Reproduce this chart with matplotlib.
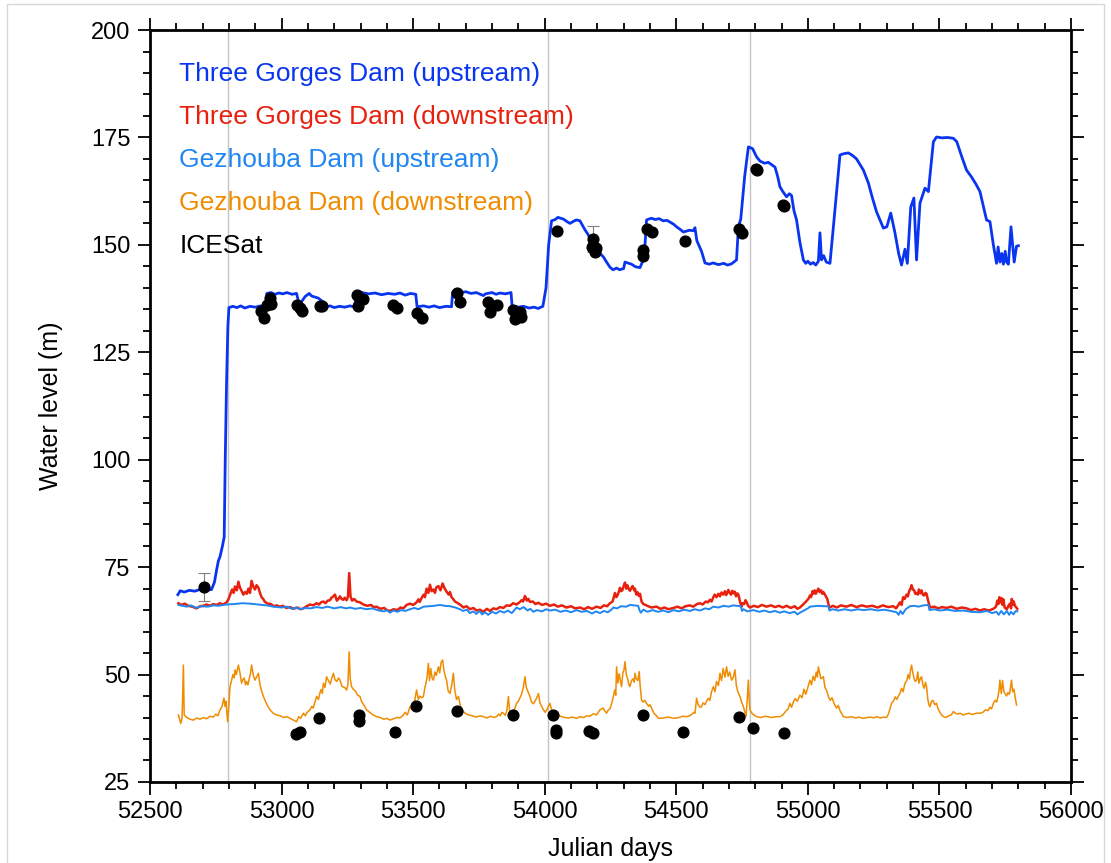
import numpy as np
import matplotlib.pyplot as plt
from matplotlib.ticker import MultipleLocator
from matplotlib.patches import Rectangle

plt.rcParams['font.family'] = ['Liberation Sans', 'DejaVu Sans']

# (julian day, water level in m)

# Three Gorges Dam, upstream gauge
tg_up = np.array([
    [52606, 68.6], [52615, 69.5], [52630, 69.2], [52650, 69.6], [52670, 69.4], [52690, 69.8],
    [52710, 69.6], [52734, 69.8], [52745, 71.5], [52753, 74.3], [52760, 76.5], [52766, 77.4],
    [52775, 79.8], [52782, 82.0], [52786, 100.0], [52791, 118.0], [52796, 131.0], [52800, 135.4],
    [52815, 135.7], [52830, 135.4], [52845, 135.8], [52860, 135.3], [52880, 135.7], [52900, 135.5],
    [52920, 135.8], [52940, 135.5], [52944, 138.7], [52960, 138.9], [52975, 138.5], [52990, 138.8],
    [53005, 138.6], [53020, 138.9], [53040, 138.5], [53057, 138.7], [53066, 136.4], [53076, 136.8],
    [53090, 138.0], [53105, 138.7], [53114, 138.1], [53140, 137.6], [53160, 136.6], [53171, 135.6],
    [53185, 135.8], [53200, 135.4], [53220, 135.7], [53240, 135.5], [53260, 135.8], [53279, 135.5],
    [53282, 138.6], [53305, 138.9], [53330, 138.6], [53355, 138.8], [53380, 138.4], [53405, 138.7],
    [53430, 138.5], [53450, 138.8], [53470, 138.3], [53490, 138.7], [53510, 138.5], [53515, 135.6],
    [53540, 135.8], [53560, 135.5], [53580, 135.8], [53600, 135.4], [53625, 135.7], [53646, 135.6],
    [53650, 139.0], [53675, 138.8], [53700, 139.1], [53720, 138.7], [53740, 138.9], [53767, 138.2],
    [53775, 138.6], [53800, 138.9], [53815, 138.5], [53830, 138.8], [53850, 138.6], [53872, 138.9],
    [53876, 135.8], [53900, 135.5], [53920, 135.7], [53940, 135.3], [53960, 135.5], [53975, 135.2],
    [53993, 135.7], [54005, 140.0], [54015, 150.0], [54026, 155.6], [54040, 155.9], [54050, 156.4],
    [54071, 156.0], [54085, 155.4], [54096, 155.0], [54110, 155.5], [54120, 155.8], [54134, 155.6],
    [54153, 153.5], [54165, 152.4], [54175, 151.0], [54197, 149.5], [54210, 148.0], [54223, 147.2],
    [54235, 146.0], [54248, 144.8], [54260, 144.2], [54273, 144.6], [54285, 144.2], [54300, 144.5],
    [54305, 146.0], [54330, 145.5], [54345, 144.9], [54362, 144.7], [54378, 147.0], [54387, 155.8],
    [54405, 156.2], [54420, 155.9], [54435, 156.1], [54450, 155.6], [54465, 155.7], [54476, 155.3],
    [54490, 154.8], [54501, 154.2], [54515, 153.6], [54527, 153.0], [54550, 153.4], [54565, 153.3],
    [54571, 154.0], [54578, 151.0], [54596, 148.5], [54609, 145.8], [54625, 145.5], [54640, 145.8],
    [54660, 145.4], [54680, 145.7], [54695, 145.3], [54710, 145.6], [54729, 146.5], [54736, 154.2],
    [54745, 156.0], [54760, 166.0], [54774, 172.8], [54790, 172.4], [54805, 170.5], [54818, 169.5],
    [54835, 169.0], [54850, 169.2], [54875, 168.1], [54885, 166.0], [54894, 163.5], [54905, 162.4],
    [54919, 161.2], [54930, 161.9], [54938, 161.5], [54947, 158.0], [54957, 155.8], [54970, 150.5],
    [54983, 146.5], [54992, 145.7], [55000, 146.2], [55010, 145.5], [55020, 145.9], [55030, 145.3],
    [55040, 146.2], [55046, 152.8], [55052, 146.5], [55060, 147.5], [55070, 146.0], [55084, 145.7],
    [55097, 154.2], [55110, 163.0], [55122, 170.9], [55135, 171.2], [55154, 171.4], [55170, 170.8],
    [55185, 170.0], [55211, 167.4], [55230, 164.4], [55245, 161.0], [55261, 157.7], [55287, 153.9],
    [55300, 154.2], [55315, 157.4], [55331, 152.8], [55345, 148.0], [55356, 145.3], [55369, 149.0],
    [55378, 145.7], [55391, 158.8], [55403, 160.9], [55413, 146.5], [55426, 159.7], [55445, 163.2],
    [55458, 162.4], [55477, 174.0], [55489, 175.1], [55510, 174.9], [55530, 175.0], [55553, 174.8],
    [55566, 174.0], [55585, 170.5], [55603, 167.4], [55622, 165.8], [55640, 164.0], [55654, 162.4],
    [55679, 155.8], [55692, 155.4], [55705, 150.0], [55717, 145.7], [55723, 149.5], [55730, 146.0],
    [55737, 148.0], [55743, 145.5], [55750, 148.5], [55755, 146.0], [55762, 145.5], [55772, 154.2],
    [55778, 150.0], [55784, 146.0], [55793, 149.7], [55800, 149.8]])

# Three Gorges Dam, downstream gauge
tg_dn = np.array([
    [52608, 66.6], [52620, 66.2], [52632, 66.5], [52645, 66.0], [52660, 65.8], [52677, 65.4],
    [52690, 65.9], [52703, 66.0], [52715, 66.3], [52728, 66.0], [52740, 66.4], [52753, 66.2],
    [52766, 66.6], [52778, 66.3], [52791, 66.8], [52798, 67.5], [52804, 68.5], [52812, 69.8],
    [52818, 69.0], [52823, 70.5], [52830, 69.6], [52836, 71.6], [52842, 70.2], [52848, 69.5],
    [52855, 68.6], [52861, 69.2], [52868, 68.8], [52874, 70.0], [52880, 69.0], [52886, 71.8],
    [52893, 70.4], [52899, 69.8], [52905, 70.8], [52912, 70.2], [52918, 69.0], [52924, 68.0],
    [52930, 67.6], [52937, 66.9], [52948, 66.5], [52960, 66.4], [52970, 65.9], [52981, 66.1],
    [52993, 65.8], [53005, 66.0], [53018, 65.5], [53032, 65.7], [53045, 65.3], [53060, 65.6],
    [53072, 65.2], [53083, 65.4], [53095, 65.9], [53108, 66.3], [53120, 66.1], [53133, 66.6],
    [53142, 66.3], [53150, 66.8], [53159, 67.0], [53167, 66.6], [53175, 67.2], [53184, 67.3],
    [53190, 67.9], [53195, 68.1], [53203, 68.6], [53210, 67.2], [53216, 67.6], [53222, 68.2],
    [53228, 67.6], [53235, 67.4], [53240, 67.9], [53247, 67.3], [53252, 68.0], [53257, 73.6],
    [53262, 68.2], [53268, 67.2], [53276, 67.6], [53285, 67.0], [53298, 66.8], [53311, 66.3],
    [53325, 66.0], [53340, 66.2], [53350, 65.7], [53361, 65.8], [53375, 65.3], [53390, 65.5],
    [53400, 65.0], [53412, 64.8], [53425, 65.2], [53440, 65.0], [53452, 65.6], [53463, 65.4],
    [53475, 66.2], [53488, 66.5], [53500, 66.2], [53513, 66.8], [53520, 67.5], [53525, 66.9],
    [53532, 67.8], [53540, 68.6], [53545, 68.0], [53551, 70.0], [53558, 69.0], [53564, 70.9],
    [53570, 69.4], [53577, 69.8], [53583, 69.0], [53588, 70.3], [53596, 70.6], [53604, 69.6],
    [53612, 71.2], [53620, 70.0], [53627, 69.3], [53635, 68.6], [53640, 69.2], [53646, 68.0],
    [53652, 67.6], [53659, 67.0], [53670, 66.6], [53680, 66.2], [53691, 65.6], [53703, 65.9],
    [53716, 65.2], [53729, 65.5], [53741, 64.9], [53754, 65.1], [53767, 64.6], [53780, 65.3],
    [53792, 64.8], [53805, 65.4], [53817, 65.2], [53830, 65.7], [53843, 65.5], [53855, 66.1],
    [53868, 66.0], [53880, 66.6], [53893, 66.3], [53906, 66.9], [53912, 67.3], [53918, 67.0],
    [53925, 68.3], [53932, 67.2], [53938, 67.6], [53944, 66.9], [53955, 67.0], [53965, 66.4],
    [53976, 66.7], [53990, 66.2], [54005, 66.5], [54020, 66.0], [54035, 66.3], [54050, 65.8],
    [54065, 66.1], [54083, 65.6], [54100, 65.9], [54115, 65.4], [54134, 65.6], [54150, 65.2],
    [54165, 65.7], [54180, 65.3], [54197, 65.8], [54212, 65.5], [54225, 66.1], [54237, 65.9],
    [54248, 66.6], [54258, 67.0], [54267, 69.0], [54272, 68.0], [54278, 68.6], [54286, 70.2],
    [54290, 69.4], [54295, 69.6], [54300, 70.6], [54305, 71.4], [54310, 70.0], [54314, 70.8],
    [54320, 69.8], [54324, 69.5], [54330, 70.2], [54334, 70.6], [54340, 69.6], [54343, 70.0],
    [54348, 68.6], [54352, 69.2], [54358, 68.3], [54362, 68.8], [54368, 67.0], [54375, 66.4],
    [54390, 66.0], [54405, 65.6], [54425, 65.8], [54440, 65.3], [54455, 65.6], [54470, 65.2],
    [54489, 65.5], [54505, 65.8], [54520, 65.4], [54535, 65.9], [54552, 66.1], [54565, 65.8],
    [54578, 66.4], [54590, 66.6], [54600, 66.3], [54612, 67.0], [54620, 66.8], [54628, 67.4],
    [54634, 67.0], [54640, 67.9], [54646, 68.6], [54653, 68.0], [54660, 68.8], [54666, 68.2],
    [54672, 69.1], [54679, 68.6], [54685, 69.4], [54690, 68.5], [54698, 69.7], [54703, 69.0],
    [54708, 68.6], [54713, 69.5], [54717, 68.9], [54722, 69.3], [54727, 68.2], [54732, 68.9],
    [54736, 68.6], [54742, 67.0], [54748, 65.8], [54752, 66.6], [54758, 66.4], [54763, 67.3],
    [54767, 66.9], [54773, 66.0], [54780, 65.6], [54795, 66.0], [54810, 65.7], [54825, 66.2],
    [54843, 65.8], [54860, 66.1], [54875, 65.7], [54890, 66.0], [54905, 65.6], [54919, 66.0],
    [54935, 65.5], [54950, 65.9], [54960, 65.3], [54970, 65.6], [54980, 66.2], [54990, 66.8],
    [55002, 67.6], [55008, 68.4], [55012, 68.0], [55018, 69.4], [55021, 68.8], [55026, 69.6],
    [55030, 68.8], [55035, 69.4], [55040, 70.0], [55045, 69.2], [55050, 69.6], [55055, 68.8],
    [55059, 69.2], [55065, 68.6], [55070, 68.0], [55074, 67.6], [55079, 66.2], [55084, 65.6],
    [55095, 66.0], [55110, 65.6], [55125, 66.1], [55147, 65.8], [55165, 66.2], [55185, 65.7],
    [55205, 66.1], [55223, 65.8], [55245, 66.0], [55265, 65.6], [55285, 66.1], [55305, 65.7],
    [55325, 65.9], [55335, 65.4], [55342, 66.0], [55350, 66.8], [55356, 66.2], [55362, 68.0],
    [55368, 67.6], [55375, 68.6], [55380, 68.2], [55385, 69.4], [55390, 70.0], [55394, 70.8],
    [55399, 69.8], [55404, 69.6], [55408, 68.8], [55413, 69.0], [55418, 68.6], [55422, 69.8],
    [55427, 68.9], [55432, 69.6], [55437, 68.6], [55442, 68.4], [55447, 69.0], [55451, 68.8],
    [55457, 67.2], [55464, 65.6], [55480, 65.8], [55495, 65.4], [55510, 65.7], [55527, 65.5],
    [55545, 65.8], [55565, 65.3], [55585, 65.6], [55603, 65.4], [55620, 65.0], [55637, 65.3],
    [55654, 64.9], [55670, 65.2], [55688, 64.9], [55705, 65.3], [55715, 65.8], [55720, 67.2],
    [55724, 66.4], [55728, 68.0], [55732, 66.8], [55736, 67.8], [55740, 66.2], [55743, 67.5],
    [55748, 65.6], [55756, 65.2], [55762, 66.0], [55768, 66.5], [55772, 65.4], [55775, 67.6],
    [55779, 66.2], [55782, 67.0], [55787, 66.0], [55792, 65.6], [55796, 65.3]])

# Gezhouba Dam, upstream gauge
gz_up = np.array([
    [52608, 66.2], [52625, 66.0], [52640, 65.8], [52655, 66.1], [52677, 65.5], [52695, 65.9],
    [52720, 65.8], [52740, 66.1], [52760, 66.0], [52790, 66.3], [52820, 66.4], [52850, 66.6],
    [52880, 66.5], [52910, 66.3], [52943, 66.1], [52970, 65.8], [53000, 65.6], [53020, 65.8],
    [53040, 65.3], [53055, 65.6], [53070, 65.2], [53090, 65.5], [53110, 65.4], [53133, 65.7],
    [53155, 65.5], [53175, 65.8], [53200, 65.4], [53225, 65.7], [53245, 65.4], [53260, 65.6],
    [53280, 65.3], [53300, 65.5], [53323, 65.2], [53345, 65.4], [53370, 64.9], [53390, 64.7],
    [53400, 65.0], [53412, 64.4], [53425, 64.9], [53440, 64.6], [53455, 65.0], [53470, 64.8],
    [53488, 65.2], [53505, 65.5], [53520, 65.2], [53540, 65.8], [53560, 65.9], [53580, 66.0],
    [53602, 66.2], [53620, 66.0], [53640, 65.9], [53660, 65.6], [53678, 65.2], [53690, 64.8],
    [53705, 65.1], [53715, 64.3], [53729, 64.7], [53740, 64.1], [53752, 64.8], [53762, 64.0],
    [53773, 64.5], [53785, 63.9], [53800, 64.6], [53815, 64.2], [53830, 64.8], [53845, 64.4],
    [53860, 64.9], [53875, 64.3], [53893, 65.6], [53905, 65.2], [53920, 65.7], [53935, 64.9],
    [53945, 65.3], [53957, 64.6], [53970, 65.0], [53990, 64.7], [54005, 65.2], [54020, 64.9],
    [54040, 65.1], [54060, 64.6], [54080, 64.9], [54100, 64.5], [54121, 65.0], [54140, 64.6],
    [54160, 64.8], [54180, 64.2], [54195, 64.7], [54210, 64.3], [54225, 64.8], [54240, 64.5],
    [54255, 65.2], [54261, 65.6], [54275, 65.4], [54290, 65.9], [54310, 65.8], [54324, 66.2],
    [54340, 66.1], [54355, 66.0], [54360, 65.0], [54365, 64.4], [54375, 65.1], [54390, 64.6],
    [54410, 65.0], [54430, 64.6], [54451, 64.9], [54470, 64.5], [54490, 65.0], [54510, 64.7],
    [54530, 65.1], [54552, 64.8], [54570, 65.2], [54590, 64.9], [54610, 65.4], [54625, 65.2],
    [54641, 65.8], [54660, 65.6], [54680, 66.0], [54700, 65.8], [54715, 66.1], [54729, 66.0],
    [54745, 65.9], [54750, 64.8], [54755, 65.2], [54770, 64.7], [54793, 65.0], [54815, 64.6],
    [54835, 64.9], [54855, 64.5], [54875, 64.8], [54894, 64.4], [54910, 64.7], [54930, 64.3],
    [54950, 64.6], [54960, 64.0], [54970, 64.4], [54985, 64.9], [55000, 65.4], [55008, 65.8],
    [55025, 65.9], [55040, 66.0], [55060, 65.9], [55078, 65.9], [55082, 64.9], [55095, 65.2],
    [55115, 64.9], [55140, 65.2], [55165, 64.9], [55190, 65.2], [55211, 65.0], [55240, 65.2],
    [55265, 64.9], [55290, 65.1], [55315, 64.8], [55337, 64.5], [55345, 63.9], [55352, 64.8],
    [55360, 64.1], [55372, 65.2], [55388, 65.9], [55405, 66.0], [55420, 65.8], [55440, 66.1],
    [55458, 66.2], [55462, 65.0], [55480, 65.2], [55500, 64.9], [55530, 65.1], [55560, 64.8],
    [55591, 64.9], [55620, 64.6], [55654, 64.5], [55680, 64.8], [55700, 64.3], [55717, 64.6],
    [55725, 63.9], [55735, 64.8], [55745, 64.0], [55756, 64.8], [55765, 63.9], [55772, 64.6],
    [55781, 64.0], [55790, 64.8], [55796, 64.7]])

# Gezhouba Dam, downstream gauge
gz_dn = np.array([
    [52608, 40.6], [52613, 39.5], [52617, 38.6], [52622, 40.0], [52627, 52.2], [52630, 40.6],
    [52640, 40.0], [52652, 39.6], [52665, 39.4], [52678, 39.9], [52690, 39.6], [52703, 40.0],
    [52715, 39.7], [52728, 40.3], [52741, 40.1], [52750, 40.8], [52758, 40.4], [52766, 41.8],
    [52773, 42.4], [52781, 44.5], [52785, 42.6], [52789, 43.8], [52795, 39.0], [52800, 43.0],
    [52804, 47.2], [52810, 48.6], [52815, 50.0], [52820, 49.2], [52823, 51.1], [52828, 50.0],
    [52836, 52.2], [52842, 50.4], [52848, 48.0], [52853, 48.8], [52858, 49.2], [52863, 47.6],
    [52867, 48.4], [52872, 47.6], [52877, 49.0], [52882, 50.2], [52886, 52.2], [52892, 50.0],
    [52899, 48.7], [52905, 49.4], [52912, 50.3], [52918, 47.6], [52925, 46.0], [52931, 44.9],
    [52940, 43.6], [52948, 42.6], [52956, 41.8], [52968, 41.0], [52981, 40.6], [52995, 40.4],
    [53008, 40.0], [53020, 40.2], [53032, 39.8], [53045, 39.4], [53057, 39.0], [53065, 40.2],
    [53072, 39.8], [53083, 41.0], [53090, 40.4], [53097, 41.2], [53108, 41.8], [53115, 42.6],
    [53120, 42.2], [53127, 43.6], [53133, 44.9], [53140, 44.2], [53146, 45.8], [53150, 46.5],
    [53155, 45.6], [53159, 48.0], [53165, 47.0], [53171, 49.5], [53178, 48.6], [53185, 47.8],
    [53190, 49.0], [53197, 50.3], [53203, 48.8], [53210, 48.4], [53216, 49.2], [53222, 48.7],
    [53230, 47.2], [53240, 47.0], [53247, 46.4], [53252, 47.6], [53257, 55.3], [53261, 49.0],
    [53266, 47.2], [53272, 46.6], [53280, 46.2], [53289, 45.2], [53298, 44.9], [53305, 43.6],
    [53312, 43.0], [53323, 41.8], [53335, 41.2], [53348, 40.6], [53361, 40.2], [53375, 40.0],
    [53388, 39.6], [53400, 39.8], [53412, 39.4], [53425, 39.7], [53438, 40.0], [53450, 39.9],
    [53463, 40.6], [53470, 41.2], [53478, 40.6], [53488, 42.5], [53495, 42.0], [53503, 43.0],
    [53508, 44.6], [53513, 46.4], [53520, 44.2], [53526, 45.0], [53532, 44.6], [53539, 44.9],
    [53545, 47.0], [53552, 49.0], [53558, 52.6], [53562, 48.6], [53567, 51.4], [53572, 49.2],
    [53577, 48.7], [53583, 50.6], [53588, 49.8], [53596, 51.8], [53601, 50.4], [53606, 52.8],
    [53612, 53.4], [53617, 51.0], [53622, 49.6], [53627, 48.7], [53633, 46.2], [53640, 45.6],
    [53646, 47.4], [53653, 50.3], [53658, 46.4], [53665, 44.2], [53672, 44.9], [53680, 42.6],
    [53688, 41.6], [53697, 41.0], [53710, 40.6], [53725, 40.4], [53740, 40.1], [53755, 40.4],
    [53767, 40.2], [53780, 39.9], [53795, 40.3], [53805, 40.0], [53817, 40.2], [53825, 40.8],
    [53831, 40.4], [53837, 41.2], [53843, 41.0], [53850, 40.5], [53856, 41.6], [53862, 44.9],
    [53867, 41.4], [53874, 40.2], [53880, 41.6], [53886, 42.0], [53893, 43.3], [53900, 43.8],
    [53906, 44.6], [53912, 45.4], [53918, 46.8], [53925, 49.5], [53930, 47.0], [53935, 46.2],
    [53944, 44.9], [53950, 43.6], [53957, 43.2], [53965, 44.0], [53970, 44.6], [53976, 45.6],
    [53982, 43.4], [53988, 42.6], [53995, 41.8], [54002, 41.2], [54008, 41.8], [54014, 42.6],
    [54020, 43.3], [54027, 41.6], [54035, 41.0], [54045, 40.6], [54060, 40.3], [54075, 40.0],
    [54090, 39.9], [54105, 40.1], [54121, 39.8], [54134, 40.2], [54148, 40.0], [54160, 40.4],
    [54172, 40.3], [54185, 40.9], [54197, 40.6], [54210, 41.8], [54222, 42.2], [54228, 41.6],
    [54235, 41.0], [54242, 41.8], [54248, 42.0], [54254, 43.2], [54261, 44.9], [54266, 46.4],
    [54270, 45.2], [54273, 51.8], [54278, 48.0], [54283, 50.2], [54288, 48.4], [54292, 47.2],
    [54297, 50.4], [54301, 51.0], [54305, 53.0], [54310, 50.0], [54316, 48.8], [54320, 47.6],
    [54324, 47.2], [54330, 48.6], [54335, 49.0], [54340, 48.2], [54343, 50.3], [54348, 49.0],
    [54354, 48.6], [54359, 50.7], [54363, 47.2], [54368, 44.1], [54374, 43.6], [54380, 44.0],
    [54387, 43.3], [54395, 42.6], [54400, 43.0], [54406, 42.2], [54415, 41.0], [54425, 40.4],
    [54432, 39.8], [54450, 39.9], [54470, 40.1], [54490, 39.8], [54510, 40.0], [54525, 40.3],
    [54539, 40.2], [54550, 40.4], [54560, 40.8], [54567, 41.2], [54571, 41.0], [54574, 42.6],
    [54577, 44.5], [54583, 43.0], [54590, 42.4], [54596, 42.5], [54602, 43.4], [54609, 43.0],
    [54615, 43.8], [54622, 44.5], [54628, 44.0], [54634, 46.0], [54641, 47.2], [54647, 46.0],
    [54653, 48.4], [54660, 47.4], [54666, 50.3], [54672, 48.6], [54678, 51.4], [54685, 49.4],
    [54691, 51.8], [54697, 49.6], [54703, 50.6], [54710, 48.7], [54716, 49.2], [54723, 51.1],
    [54728, 47.6], [54733, 46.2], [54738, 45.4], [54742, 44.9], [54748, 43.6], [54755, 42.5],
    [54760, 41.4], [54765, 40.2], [54770, 44.6], [54774, 48.7], [54777, 44.2], [54780, 41.7],
    [54790, 40.8], [54805, 40.2], [54820, 40.0], [54840, 40.3], [54860, 40.0], [54880, 40.2],
    [54894, 40.2], [54905, 40.6], [54915, 41.4], [54925, 42.0], [54932, 43.3], [54938, 42.4],
    [54945, 43.6], [54952, 44.4], [54960, 43.8], [54970, 45.2], [54978, 44.6], [54985, 46.6],
    [54992, 45.4], [55000, 47.0], [55008, 48.7], [55014, 47.6], [55020, 49.6], [55026, 48.6],
    [55032, 50.6], [55036, 49.4], [55040, 51.8], [55046, 50.0], [55050, 49.0], [55059, 49.5],
    [55065, 47.0], [55072, 46.2], [55078, 44.9], [55085, 44.0], [55092, 44.6], [55100, 43.2],
    [55109, 42.2], [55116, 42.8], [55122, 41.6], [55135, 40.2], [55150, 40.0], [55165, 40.2],
    [55180, 39.9], [55195, 40.1], [55210, 39.8], [55225, 40.0], [55240, 40.1], [55249, 39.9],
    [55262, 40.2], [55275, 39.9], [55288, 40.1], [55299, 40.0], [55306, 40.8], [55312, 42.0],
    [55318, 43.3], [55325, 43.8], [55332, 44.8], [55338, 44.2], [55344, 45.0], [55350, 45.6],
    [55356, 46.8], [55362, 46.0], [55369, 48.0], [55376, 48.6], [55381, 50.0], [55386, 49.0],
    [55390, 51.0], [55394, 52.2], [55399, 50.4], [55404, 49.0], [55408, 48.4], [55413, 48.7],
    [55418, 50.6], [55422, 48.0], [55427, 49.0], [55432, 49.5], [55437, 47.6], [55442, 46.8],
    [55447, 48.2], [55451, 47.2], [55456, 44.2], [55460, 43.0], [55464, 42.5], [55470, 43.8],
    [55476, 44.0], [55482, 43.0], [55489, 43.3], [55495, 42.0], [55502, 41.2], [55508, 40.6],
    [55515, 40.2], [55525, 40.0], [55535, 40.4], [55545, 40.6], [55553, 41.4], [55560, 41.0],
    [55570, 40.8], [55578, 41.0], [55590, 40.6], [55600, 40.8], [55612, 41.0], [55625, 40.7],
    [55640, 41.0], [55654, 41.0], [55665, 41.2], [55675, 41.8], [55685, 41.6], [55692, 42.4],
    [55698, 42.0], [55705, 43.3], [55712, 44.0], [55718, 43.6], [55722, 44.8], [55726, 46.0],
    [55730, 48.7], [55735, 45.6], [55740, 48.6], [55745, 46.0], [55749, 45.6], [55755, 45.0],
    [55760, 45.8], [55766, 45.4], [55770, 47.0], [55774, 48.7], [55778, 46.0], [55783, 46.6],
    [55788, 44.6], [55793, 42.9]])

# ICESat altimetry estimates
ice_day = [52705, 52920, 52935, 52945, 52955, 52960, 53058, 53070, 53078, 53146, 53152,
           53287, 53290, 53310, 53425, 53440, 53514, 53534, 53667, 53678, 53784, 53792,
           53818, 53880, 53887, 53906, 53910, 54046, 54180, 54184, 54192, 54196, 54374,
           54374, 54389, 54408, 54533, 54738, 54750, 54803, 54807, 54905, 54910,
           53055, 53070, 53142, 53294, 53294, 53431, 53511, 53667, 53880, 54032, 54043,
           54043, 54168, 54184, 54374, 54526, 54738, 54791, 54909]
ice_lvl = [70.4, 134.7, 133.0, 136.0, 137.6, 136.2, 136.0, 135.2, 134.6, 135.8, 135.8,
           138.3, 135.8, 137.4, 136.0, 135.3, 134.2, 133.0, 138.8, 136.7, 136.7, 134.4,
           136.0, 134.8, 132.8, 134.4, 133.2, 153.2, 149.5, 151.4, 148.4, 149.2, 148.8,
           147.4, 153.7, 153.0, 150.9, 153.7, 152.8, 167.6, 167.4, 159.3, 159.1,
           36.2, 36.6, 39.9, 40.6, 39.3, 36.6, 42.7, 41.6, 40.6, 40.6, 37.1,
           36.5, 36.9, 36.4, 40.6, 36.6, 40.1, 37.6, 36.4]
err_day = [52705, 54184]
err_lvl = [70.4, 151.4]
err_size = [3.3, 3.0]

# dates of the filling stages
stage_day = [52796, 54011, 54780]

fig = plt.figure(figsize=(11.11, 8.63), dpi=100)
ax = fig.add_axes([0.135, 0.0939, 0.829, 0.8713])

for d in stage_day:
    ax.axvline(d, color='#c4c4c4', linewidth=1.0, zorder=0)

ax.plot(gz_dn[:, 0], gz_dn[:, 1], color='#f08c00', linewidth=1.1)
ax.plot(tg_dn[:, 0], tg_dn[:, 1], color='#e8210f', linewidth=1.8)
ax.plot(gz_up[:, 0], gz_up[:, 1], color='#1f86f2', linewidth=1.4)
ax.plot(tg_up[:, 0], tg_up[:, 1], color='#0a35f0', linewidth=2.0)
ax.errorbar(err_day, err_lvl, yerr=err_size, fmt='none', ecolor='#808080',
            elinewidth=0.8, capsize=4, capthick=0.8)
ax.scatter(ice_day, ice_lvl, s=60, color='black', zorder=5)

ax.set_xlim(52500, 56000)
ax.set_ylim(25, 200)
ax.xaxis.set_major_locator(MultipleLocator(500))
ax.xaxis.set_minor_locator(MultipleLocator(100))
ax.yaxis.set_major_locator(MultipleLocator(25))
ax.yaxis.set_minor_locator(MultipleLocator(5))
ax.tick_params(which='both', direction='out', top=True, right=True, width=1.3, labelsize=17)
ax.tick_params(which='major', length=9, pad=5)
ax.tick_params(which='minor', length=5)
for sp in ax.spines.values():
    sp.set_linewidth(2.0)

ax.set_xlabel('Julian days', fontsize=18, labelpad=10)
ax.set_ylabel('Water level (m)', fontsize=18, labelpad=20)

names = ['Three Gorges Dam (upstream)', 'Three Gorges Dam (downstream)',
         'Gezhouba Dam (upstream)', 'Gezhouba Dam (downstream)', 'ICESat']
name_colors = ['#0a35f0', '#e8210f', '#1f86f2', '#f08c00', 'black']
for i in range(len(names)):
    ax.text(0.032, 0.9415 - i * 0.0572, names[i], color=name_colors[i], fontsize=19,
            va='center', ha='left', transform=ax.transAxes)

fig.patches.append(Rectangle((0.006, -0.01), 0.988, 1.005, transform=fig.transFigure,
                             fill=False, edgecolor='#d8d8d8', linewidth=1.0))

plt.savefig('out.png', dpi=100)
